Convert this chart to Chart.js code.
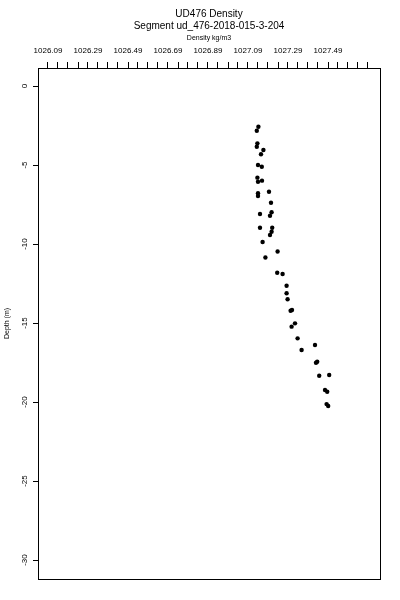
<!DOCTYPE html>
<html>
<head>
<meta charset="utf-8">
<script src="https://cdn.jsdelivr.net/npm/chart.js@4"></script>
<style>
  body { margin: 0; background: #fff; }
  #wrap { width: 400px; height: 600px; }
</style>
</head>
<body>
<div id="wrap"><canvas id="grafico" width="400" height="600"></canvas></div>
<script>
// Dados
const densidade = [
  1027.142, 1027.134, 1027.137, 1027.134, 1027.167, 1027.155, 1027.140, 1027.159,
  1027.137, 1027.140, 1027.160, 1027.140, 1027.140, 1027.195, 1027.205, 1027.150,
  1027.208, 1027.200, 1027.150, 1027.211, 1027.208, 1027.200, 1027.163, 1027.238,
  1027.177, 1027.236, 1027.263, 1027.283, 1027.283, 1027.288, 1027.303, 1027.310,
  1027.325, 1027.308, 1027.338, 1027.358, 1027.425, 1027.436, 1027.430, 1027.446,
  1027.496, 1027.475, 1027.486, 1027.483, 1027.491
];
const profundidade = [
  -2.58, -2.83, -3.63, -3.84, -4.05, -4.32, -5.00, -5.11,
  -5.80, -6.06, -5.99, -6.79, -6.96, -6.69, -7.39, -8.10,
  -7.99, -8.21, -8.97, -8.97, -9.22, -9.43, -9.87, -10.47,
  -10.85, -11.82, -11.90, -12.64, -13.12, -13.50, -14.22, -14.18,
  -15.02, -15.23, -15.97, -16.71, -16.39, -17.45, -17.51, -18.34,
  -18.29, -19.24, -19.35, -20.13, -20.25
];
const ticksX = [];
for (let i = 0; i <= 32; i++) ticksX.push(1026.09 + 0.05 * i);
const rotulosX = ['1026.09', '1026.29', '1026.49', '1026.69', '1026.89', '1027.09', '1027.29', '1027.49'];
const ticksY = [0, -5, -10, -15, -20, -25, -30];

const titulo1 = 'UD476 Density';
const titulo2 = 'Segment ud_476-2018-015-3-204';
const tituloX = 'Density kg/m3';
const tituloY = 'Depth (m)';

const fonte = '"Liberation Sans", Arial, sans-serif';

// Moldura, títulos e rótulos do eixo Y
const extras = {
  id: 'extras',
  afterDraw(chart) {
    const ctx = chart.ctx;
    const area = chart.chartArea;
    const escalaY = chart.scales.y;
    const centroX = (area.left + area.right) / 2;
    ctx.save();
    ctx.strokeStyle = '#000';
    ctx.lineWidth = 1;
    ctx.strokeRect(Math.round(area.left) + 0.5, Math.round(area.top) + 0.5,
      Math.round(area.right - area.left), Math.round(area.bottom - area.top));

    ctx.fillStyle = '#000';
    ctx.textAlign = 'center';
    ctx.textBaseline = 'middle';
    ctx.font = '10px ' + fonte;
    ctx.fillText(titulo1, centroX, 14);
    ctx.fillText(titulo2, centroX, 26);
    ctx.font = '7px ' + fonte;
    ctx.fillText(tituloX, centroX, 38);

    ctx.font = '8px ' + fonte;
    ticksY.forEach(v => {
      const y = escalaY.getPixelForValue(v);
      ctx.save();
      ctx.translate(25, y);
      ctx.rotate(-Math.PI / 2);
      ctx.fillText(String(v), 0, 0);
      ctx.restore();
    });

    ctx.font = '7px ' + fonte;
    ctx.translate(7, (area.top + area.bottom) / 2);
    ctx.rotate(-Math.PI / 2);
    ctx.fillText(tituloY, 0, 0);
    ctx.restore();
  }
};

new Chart(document.getElementById('grafico').getContext('2d'), {
  type: 'scatter',
  data: {
    datasets: [{
      data: densidade.map((d, i) => ({ x: d, y: profundidade[i] })),
      backgroundColor: '#000',
      borderWidth: 0,
      pointRadius: 2.2,
      pointHoverRadius: 2.2
    }]
  },
  options: {
    responsive: false,
    animation: false,
    events: [],
    layout: { padding: { top: 0, right: 20, bottom: 21, left: 0 } },
    plugins: { legend: { display: false }, tooltip: { enabled: false } },
    scales: {
      x: {
        type: 'linear',
        position: 'top',
        min: 1026.04,
        max: 1027.75,
        afterBuildTicks: scale => { scale.ticks = ticksX.map(v => ({ value: v })); },
        afterFit: scale => { scale.height = 68; },
        grid: { drawOnChartArea: false, drawTicks: true, tickLength: 6, color: '#000', lineWidth: 1 },
        border: { display: false },
        ticks: {
          autoSkip: false,
          maxRotation: 0,
          padding: 6,
          color: '#000',
          font: { size: 8, family: fonte },
          callback: (v, i) => (i % 4 === 0 ? (rotulosX[i / 4] || '') : '')
        }
      },
      y: {
        type: 'linear',
        min: -31.2,
        max: 1.14,
        afterBuildTicks: scale => { scale.ticks = ticksY.map(v => ({ value: v })); },
        afterFit: scale => { scale.width = 38; },
        grid: { drawOnChartArea: false, drawTicks: true, tickLength: 5, color: '#000', lineWidth: 1 },
        border: { display: false },
        ticks: { color: '#000', font: { size: 8 }, callback: () => '' }
      }
    }
  },
  plugins: [extras]
});
</script>
</body>
</html>
